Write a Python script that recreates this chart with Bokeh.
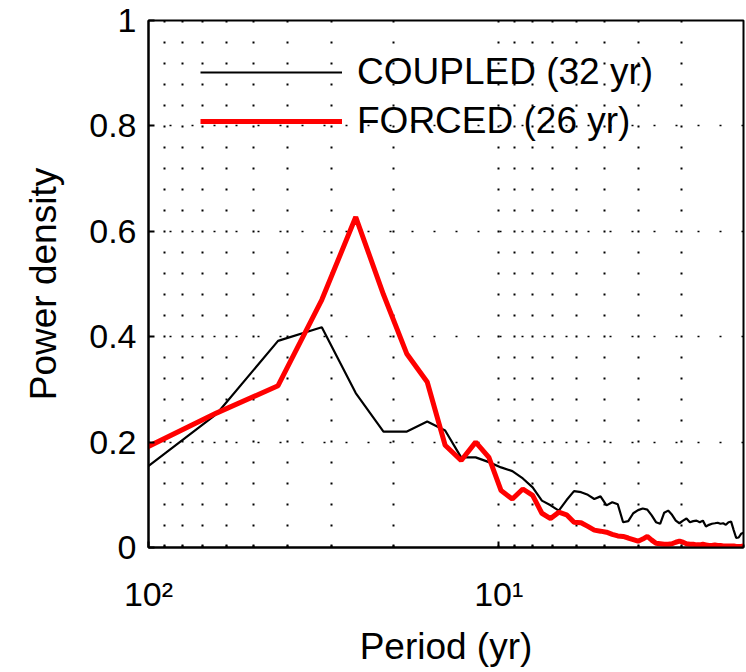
from bokeh.plotting import figure
from bokeh.models import Range1d, FixedTicker, Legend, LegendItem
from bokeh.embed import file_html
from bokeh.resources import INLINE

# Spectral estimates at frequencies k/128 cycles per year (k = 1..64)
harmonic = list(range(1, 65))
period = [128.0 / k for k in harmonic]

coupled = [0.100, 0.253, 0.392, 0.418, 0.293, 0.220, 0.220, 0.239, 0.222, 0.171,
           0.171, 0.162, 0.152, 0.145, 0.131, 0.114, 0.089, 0.080, 0.070, 0.090,
           0.107, 0.105, 0.100, 0.092, 0.097, 0.080, 0.086, 0.082, 0.048, 0.050,
           0.065, 0.071, 0.074, 0.072, 0.061, 0.048, 0.045, 0.066, 0.070, 0.062,
           0.051, 0.046, 0.051, 0.055, 0.048, 0.050, 0.051, 0.048, 0.051, 0.040,
           0.043, 0.045, 0.046, 0.047, 0.045, 0.046, 0.043, 0.048, 0.049, 0.033,
           0.018, 0.019, 0.026, 0.028]

forced = [0.157, 0.255, 0.307, 0.470, 0.627, 0.480, 0.367, 0.314, 0.194, 0.165,
          0.200, 0.171, 0.108, 0.092, 0.111, 0.099, 0.065, 0.055, 0.067, 0.062,
          0.048, 0.047, 0.040, 0.033, 0.031, 0.029, 0.025, 0.022, 0.021, 0.018,
          0.015, 0.012, 0.016, 0.021, 0.014, 0.008, 0.007, 0.006, 0.006, 0.007,
          0.010, 0.012, 0.010, 0.007, 0.006, 0.006, 0.005, 0.005, 0.006, 0.005,
          0.004, 0.004, 0.005, 0.004, 0.004, 0.003, 0.003, 0.003, 0.003, 0.003,
          0.002, 0.002, 0.002, 0.003]

labels = ["COUPLED (32 yr)", "FORCED (26 yr)"]

y_ticks = [0, 0.2, 0.4, 0.6, 0.8, 1]
y_tick_labels = ["0", "0.2", "0.4", "0.6", "0.8", "1"]
y_minor = [i * 0.04 for i in range(26)]
x_ticks = [100, 10]
x_tick_labels = ["10\u00b2", "10\u00b9"]
x_minor = [90, 80, 70, 60, 50, 40, 30, 20, 9, 8, 7, 6, 5, 4, 3, 2]

FONT = "Liberation Sans"

p = figure(width=746, height=672, x_axis_type="log",
           x_range=Range1d(100, 2), y_range=Range1d(0, 1),
           output_backend="svg", toolbar_location=None,
           min_border_left=148, min_border_right=3,
           min_border_top=20, min_border_bottom=125)

p.background_fill_color = "white"
p.border_fill_color = "white"
p.outline_line_color = "black"
p.outline_line_width = 2

# grids: dotted (MATLAB-like)
p.xgrid.ticker = FixedTicker(ticks=x_ticks, minor_ticks=x_minor)
p.xgrid.grid_line_color = "black"
p.xgrid.grid_line_width = 2
p.xgrid.grid_line_dash = "2 19"
p.xgrid.minor_grid_line_color = "black"
p.xgrid.minor_grid_line_width = 2
p.xgrid.minor_grid_line_dash = "2 19"

p.ygrid.ticker = FixedTicker(ticks=y_ticks, minor_ticks=y_minor)
p.ygrid.grid_line_color = "black"
p.ygrid.grid_line_width = 1.5
p.ygrid.grid_line_dash = "2 20"
p.ygrid.minor_grid_line_color = None

r1 = p.line(period, coupled, line_color="black", line_width=2.2)
r2 = p.line(period, forced, line_color="#ff0000", line_width=5)

# axes
xa = p.xaxis[0]
xa.ticker = FixedTicker(ticks=x_ticks, minor_ticks=x_minor)
xa.major_label_overrides = dict(zip(x_ticks, x_tick_labels))
ya = p.yaxis[0]
ya.ticker = FixedTicker(ticks=y_ticks, minor_ticks=y_minor)
ya.major_label_overrides = dict(zip(y_ticks, y_tick_labels))

for ax in (xa, ya):
    ax.axis_line_color = "black"
    ax.axis_line_width = 2
    ax.major_tick_line_color = "black"
    ax.major_tick_line_width = 2
    ax.major_tick_in = 6
    ax.major_tick_out = 0
    ax.minor_tick_line_color = "black"
    ax.minor_tick_line_width = 2
    ax.minor_tick_in = 3
    ax.minor_tick_out = 0
    ax.major_label_text_font = FONT
    ax.major_label_text_font_size = "34px"
    ax.major_label_text_color = "black"
    ax.axis_label_text_font = FONT
    ax.axis_label_text_font_size = "37px"
    ax.axis_label_text_font_style = "normal"
    ax.axis_label_text_color = "black"

xa.axis_label = "Period (yr)"
xa.major_label_standoff = 27
xa.axis_label_standoff = 10
ya.axis_label = "Power density"
ya.major_label_standoff = 12
ya.axis_label_standoff = 22
ya.minor_tick_line_color = None

legend = Legend(items=[LegendItem(label=labels[0], renderers=[r1]),
                       LegendItem(label=labels[1], renderers=[r2])],
                location=(52, 405), padding=0, margin=0, spacing=7,
                glyph_width=142, glyph_height=40, label_height=40,
                label_standoff=15, border_line_color=None,
                background_fill_alpha=0.0,
                label_text_font=FONT, label_text_font_size="37px",
                label_text_color="black")
p.add_layout(legend, "center")

open("out.html", "w").write(file_html(p, INLINE))
